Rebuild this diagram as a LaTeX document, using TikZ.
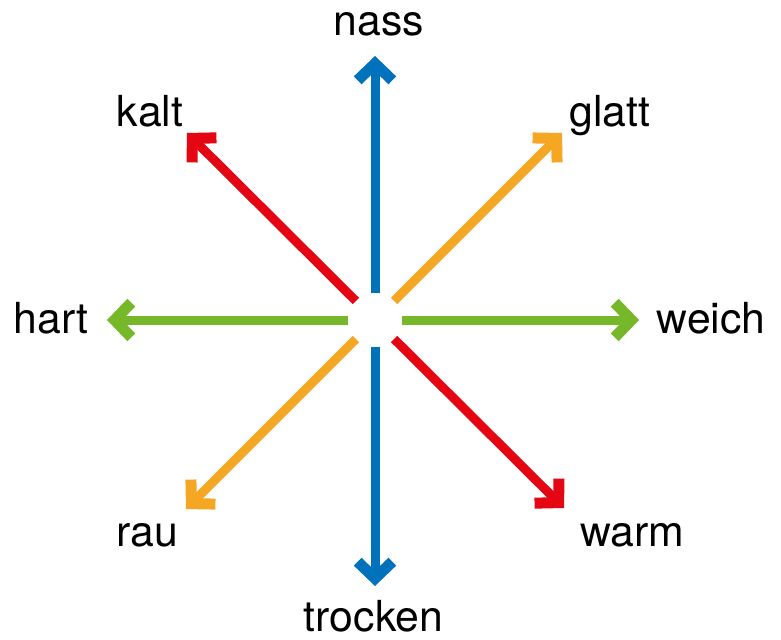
\documentclass[tikz,border=0pt]{standalone}
\usepackage{fontspec}
\setmainfont{TeX Gyre Heros}
\usetikzlibrary{arrows.meta}
\definecolor{feelblue}{RGB}{0,114,188}
\definecolor{feelred}{RGB}{228,6,19}
\definecolor{feelorange}{RGB}{245,166,35}
\definecolor{feelgreen}{RGB}{119,184,42}
\tikzset{
  spoke/.style={line width=0.27cm, -{Straight Barb[length=0.5cm, width=1.04cm, line width=0.06cm 1]}},
  word/.style={anchor=base, font=\fontsize{36.5}{44}\selectfont}
}
\begin{document}
\begin{tikzpicture}[x=0.03cm, y=-0.03cm]
      \useasboundingbox (0, 0) rectangle (781, 639);
      \node[circle, minimum size=1.62cm, inner sep=0pt, outer sep=0pt] (hub) at (375, 320) {};
      \coordinate (tipN) at (375, 56);
      \coordinate (tipS) at (375, 586);
      \coordinate (tipW) at (107, 320);
      \coordinate (tipE) at (639, 320);
      \coordinate (tipNW) at (187, 133);
      \coordinate (tipNE) at (562, 133);
      \coordinate (tipSW) at (186, 509);
      \coordinate (tipSE) at (564, 508);
      \draw[spoke, feelblue] (hub) -- (tipN);
      \draw[spoke, feelblue] (hub) -- (tipS);
      \draw[spoke, feelgreen] (hub) -- (tipW);
      \draw[spoke, feelgreen] (hub) -- (tipE);
      \draw[spoke, feelred] (hub) -- (tipNW);
      \draw[spoke, feelred] (hub) -- (tipSE);
      \draw[spoke, feelorange] (hub) -- (tipNE);
      \draw[spoke, feelorange] (hub) -- (tipSW);
      \node[word] (nass) at (379, 35) {nass};
      \node[word] (trocken) at (373.5, 631) {trocken};
      \node[word] (kalt) at (150, 126) {kalt};
      \node[word] (glatt) at (610, 126) {glatt};
      \node[word] (hart) at (51, 333) {hart};
      \node[word] (weich) at (711, 333) {weich};
      \node[word] (rau) at (147, 546) {rau};
      \node[word] (warm) at (632, 546) {warm};
\end{tikzpicture}
\end{document}
